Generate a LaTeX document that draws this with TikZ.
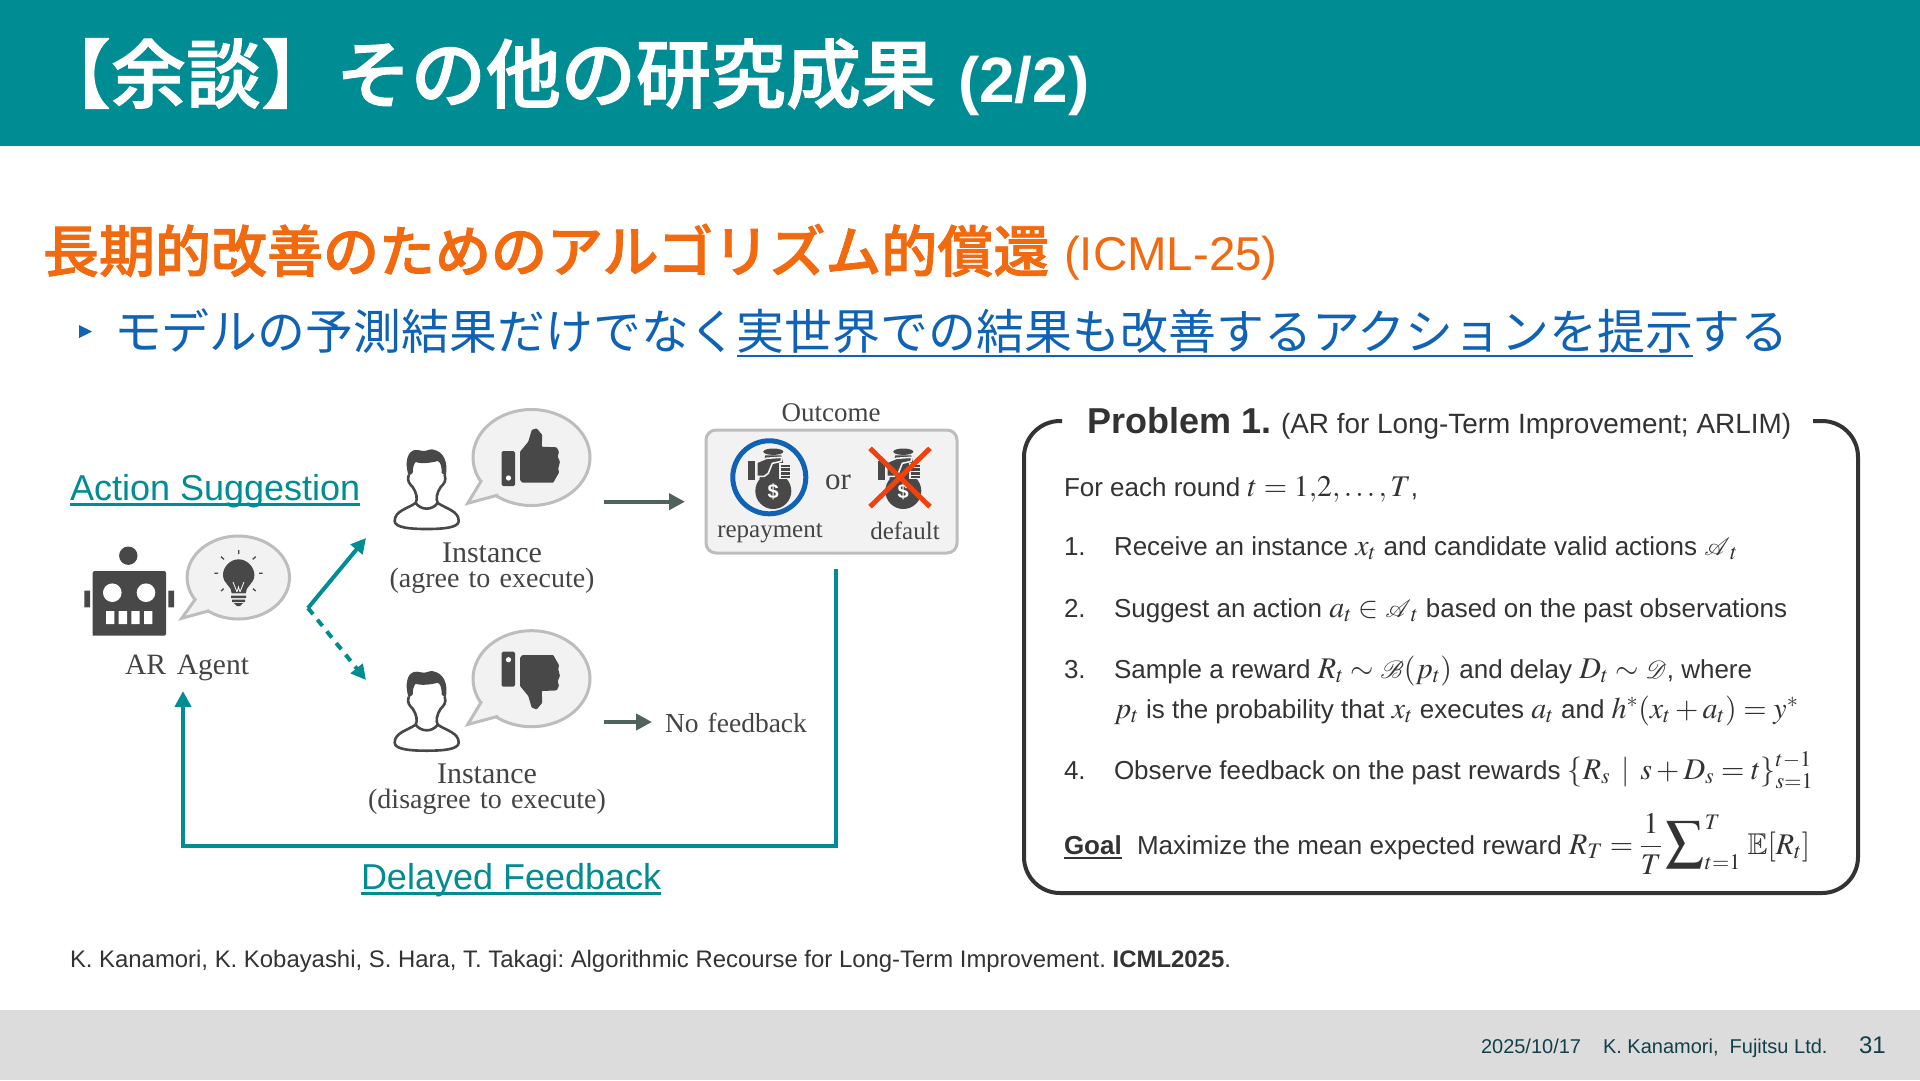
\documentclass[tikz,border=0pt]{standalone}
\usepackage{amsmath,amssymb,mathrsfs,mathptmx}
\usepackage[no-math]{fontspec}
\usetikzlibrary{arrows.meta}
\setmainfont{Liberation Sans}
\newfontfamily\cjk{Noto Sans CJK JP}
\newfontfamily\cjkm[FakeBold=1.5]{Noto Sans CJK JP Medium}
\newfontfamily\tms{Liberation Serif}
\definecolor{teal1}{HTML}{008C93}
\definecolor{orange1}{HTML}{F26A0F}
\definecolor{blue1}{HTML}{0F62B4}
\definecolor{ink}{HTML}{484848}
\definecolor{txt}{HTML}{333333}
\definecolor{serifc}{HTML}{444444}
\definecolor{bubf}{HTML}{F2F2F2}
\definecolor{bubs}{HTML}{BDBDBD}
\definecolor{greyarrow}{HTML}{4F625E}
\definecolor{foot}{HTML}{DCDCDC}
\definecolor{footc}{HTML}{12404A}
\definecolor{xred}{HTML}{F0420F}
\newcommand\fs[1]{\fontsize{#1}{#1}\selectfont}
\newcommand\mth[1]{\smash{\fs{30}$#1$}}
\newcommand\SCR[1]{\mbox{\fs{37}$\mathscr{#1}$}}
\newcommand\bubble[8]{%
  \draw[fill=bubf,draw=bubs,line width=3pt] (#1,#2) ellipse [x radius=#3pt,y radius=#4pt];
  \fill[bubf] (#5) -- (#6) -- (#7) -- cycle;
  \draw[draw=bubs,line width=3pt,line join=miter] (#5) -- (#6) -- (#7);}
\newcommand\personicon[2]{%
  \begin{scope}[shift={(#1,#2)}]
    \fill[ink] (-14,24) -- (-18,27) .. controls (-21,18) and (-21,8) .. (-16,3)
      .. controls (-12,-1) and (-6,2) .. (-3,2) .. controls (1,2) and (4,-1) .. (8,1)
      .. controls (16,3) and (22,12) .. (19,27) -- (15,24) .. controls (15,18) and (14,13) .. (11,12)
      .. controls (4,14) and (-6,15) .. (-11,13) .. controls (-13,15) and (-14,19) .. (-14,24) -- cycle;
    \draw[ink,line width=2.6pt,line join=round]
      (-18,26) .. controls (-20,32) and (-17,35) .. (-14,38)
      .. controls (-10,44) and (-9,50) .. (-11,54)
      .. controls (-6,61) and (5,62) .. (11,54)
      .. controls (9,50) and (10,44) .. (14,38)
      .. controls (17,35) and (20,32) .. (18,26);
    \draw[ink,line width=2.6pt,line join=round]
      (-11,54) .. controls (-20,60) and (-32,62) .. (-32,72)
      .. controls (-32,79) and (-15,80) .. (0,80)
      .. controls (15,80) and (32,79) .. (32,72)
      .. controls (32,62) and (20,60) .. (11,54);
  \end{scope}}
\newcommand\thumbicon{%
  \fill[ink,rounded corners=0.8pt] (-11,-5.3) -- (-2.7,-15.3) -- (0.7,-27) -- (5.7,-28.7) -- (11.3,-22) -- (10.7,-10.3)
    -- (25.7,-9.7) -- (28,-5.3) -- (26.7,-.3) -- (29,4.7) -- (27.3,11.3) -- (28,15.7) -- (24.7,21.3) -- (22.3,25.7)
    -- (-8.7,25.7) -- (-11,23) -- cycle;
  \fill[ink,rounded corners=1.5pt] (-29.3,-6) rectangle (-16,29);
  \fill[white] (-22.5,21) circle [radius=2.6pt];}
\newcommand\bagicon[2]{%
  \begin{scope}[shift={(#1,#2)}]
    \fill[ink] (4,13.7) circle [radius=18pt];
    \fill[ink] (-4,-22) -- (12,-22) -- (18,2) -- (-10,2) -- cycle;
    \fill[ink] (4,-25.6) ellipse [x radius=10pt,y radius=3.2pt];
    \fill[ink] (-21.7,-16.3) rectangle (-14.3,2.7);
    \fill[ink,draw=bubf,line width=1.6pt,line join=round] (-12.5,-15) -- (-3,-19) -- (12,-20) -- (12,-16) -- (3,-14)
      -- (-1,-4) -- (-5,-1) -- (-12.5,-1) -- cycle;
    \fill[ink,draw=bubf,line width=1.2pt] (10.7,-13.3) rectangle (21.5,1);
    \draw[bubf,line width=.8pt] (10.7,-9.5) -- (21.5,-9.5) (10.7,-5.5) -- (21.5,-5.5) (10.7,-1.5) -- (21.5,-1.5);
    \node[anchor=center,inner sep=0pt,text=white,font=\fs{20}\bfseries] (#1bagd) at (4,14.5) {\$};
  \end{scope}}
\tikzset{
  tl/.style={anchor=base west,inner sep=0pt,outer sep=0pt},
  tc/.style={anchor=base,inner sep=0pt,outer sep=0pt,align=center},
  ser/.style={text=serifc,font=\tms\fs{#1}},
  body/.style={tl,text=txt,font=\fs{26}},
  tealline/.style={teal1,line width=4pt},
  greyline/.style={greyarrow,line width=4pt,-{Triangle[length=16pt,width=16pt]}},
  tealarrow/.style={teal1,line width=4pt,-{Triangle[length=15pt,width=15pt]}},
}
\frenchspacing
\begin{document}
\begin{tikzpicture}[x=1pt,y=-1pt]
\useasboundingbox (0,0) rectangle (1920,1080);
\fill[white] (0,0) rectangle (1920,1080);
% header and footer bands
\fill[teal1] (0,0) rectangle (1920,146);
\fill[foot] (0,1010) rectangle (1920,1080);
\node[tl,text=white,font=\cjkm\fs{75}] (title) at (36,102) {【余談】その他の研究成果};
\node[tl,text=white,font=\bfseries\fs{64}] (titlen) at (958,102) {(2/2)};
% headings
\node[tl,text=orange1,font=\cjkm\fs{56}] (head) at (43,272) {長期的改善のためのアルゴリズム的償還};
\node[tl,text=orange1,font=\fs{47.5}] (headn) at (1064,270) {(ICML-25)};
\fill[blue1] (79,325) -- (92,331.5) -- (79,338) -- cycle;
\node[tl,text=blue1,font=\cjk\fs{47.92}] (sub1) at (114,349) {モデルの予測結果だけでなく};
\node[tl,text=blue1,font=\cjk\fs{47.92}] (sub2) at (sub1.base east) {実世界での結果も改善するアクションを提示};
\node[tl,text=blue1,font=\cjk\fs{47.92}] (sub3) at (sub2.base east) {する};
\draw[blue1,line width=2.5pt] ([yshift=-7pt]sub2.base west) -- ([yshift=-7pt]sub2.base east);
% left labels
\node[tl,text=teal1,font=\fs{36}] (act) at (70,500) {Action Suggestion};
\draw[teal1,line width=2.5pt] ([yshift=-4.5pt]act.base west) -- ([yshift=-4.5pt]act.base east);
\node[tl,text=teal1,font=\fs{36}] (del) at (361,889) {Delayed Feedback};
\draw[teal1,line width=2.5pt] ([yshift=-4.5pt]del.base west) -- ([yshift=-4.5pt]del.base east);
% robot
\fill[ink] (128.3,555.7) circle [radius=9.2pt];
\fill[ink,rounded corners=2pt] (92.7,635.7) -- (92.7,571) -- (166,571) -- (166,635.7) [sharp corners] -- cycle;
\fill[ink] (84.3,590.7) rectangle (90,607.3) (168.3,590.7) rectangle (174,607.3);
\fill[white] (112.3,592.7) circle [radius=9.3pt] (146,592.7) circle [radius=9.3pt];
\fill[white] (106,611) rectangle (114.3,624) (118.7,611) rectangle (127,624) (131.3,611) rectangle (139.7,624) (144,611) rectangle (152.3,624);
% bulb bubble
\bubble{238.3}{577.5}{51.2}{41.5}{196,598.3}{181.7,618.3}{209.3,610.7}{}
\fill[ink] (231.7,593.3) .. controls (232,586) and (223,584) .. (223,575) .. controls (223,567) and (230,559.3) .. (238.7,559.3)
  .. controls (247,559.3) and (254.4,567) .. (254.4,575) .. controls (254.4,584) and (245.5,586) .. (245.7,593.3) -- cycle;
\draw[white,line width=.8pt] (233,582) -- (237,592) (244,582) -- (240,592) (237,592) -- (238.5,587) -- (240,592);
\fill[ink] (231,595.5) rectangle (246,598) (232,599.5) rectangle (245,602) (234,603) -- (243,603) -- (240,606) -- (237,606) -- cycle;
\draw[ink,line width=1.3pt] (238.7,550) -- (238.7,554) (214.3,573.3) -- (218,573.3) (259,573.3) -- (262.7,573.3)
  (221,556.7) -- (224,559.3) (255.7,556.7) -- (252.7,559.3) (221,591) -- (223.7,588.7) (255.7,591) -- (253,588.7);
\node[tc,ser=29.5] (agent) at (187,674) {AR\hspace{.12em} Agent};
% upper instance
\personicon{426.7}{449}
\bubble{531.5}{457.5}{58.5}{48}{481.7,480}{467.7,503.3}{498.3,495}{}
\begin{scope}[shift={(531,457)}]\thumbicon\end{scope}
\node[tc,ser=30] (inst1) at (492,562) {Instance};
\node[tc,ser=28] (inst1b) at (492,587) {(agree\hspace{.08em} to\hspace{.08em} execute)};
% lower instance
\personicon{426.7}{670.7}
\bubble{531.5}{678.7}{58.5}{48}{481.7,701.2}{467.7,724.5}{498.3,716.2}{}
\begin{scope}[shift={(531,680.7)},yscale=-1]\thumbicon\end{scope}
\node[tc,ser=30] (inst2) at (487,783) {Instance};
\node[tc,ser=28] (inst2b) at (487,808) {(disagree\hspace{.08em} to\hspace{.08em} execute)};
% outcome
\node[tc,ser=27] (outt) at (831,421) {Outcome};
\draw[fill=bubf,draw=bubs,line width=3pt,rounded corners=10pt] (706,430) rectangle (957,553);
\node[tc,ser=25] (rep) at (770,537) {repayment};
\node[tc,ser=25] (def) at (905,539) {default};
\node[tc,ser=31] (ortx) at (838,489) {or};
\bagicon{769.3}{477.3}
\draw[blue1,line width=5pt] (769.3,477.3) circle [radius=36.5pt];
\bagicon{899.3}{477.3}
\draw[xred,line width=5pt] (870,448.3) -- (930,506.7) (930,448.3) -- (870,506.7);
\node[tl,ser=27.5] (nofb) at (665,732) {No\hspace{.08em} feedback};
% connectors
\coordinate (branch) at (308,608);
\coordinate (toagree) at (366,538);
\coordinate (todis) at (366,680);
\coordinate (a1s) at (604,501.7);
\coordinate (a1e) at (685,501.7);
\coordinate (a2s) at (604,722);
\coordinate (a2e) at (652,722);
\coordinate (fbs) at (836,569);
\coordinate (fbc1) at (836,846);
\coordinate (fbc2) at (183,846);
\coordinate (fbe) at (183,691);
\draw[tealarrow] (branch) -- (toagree);
\draw[tealarrow,dash pattern=on 8pt off 7pt] (branch) -- (todis);
\draw[greyline] (a1s) -- (a1e);
\draw[greyline] (a2s) -- (a2e);
\draw[tealarrow,-{Triangle[length=16pt,width=16pt]},line join=miter] (fbs) -- (fbc1) -- (fbc2) -- (fbe);
% problem box
\coordinate (pbl) at (1062,421);
\coordinate (pbr) at (1813,421);
\draw[txt,line width=4pt,rounded corners=36pt] (pbl) -- (1024,421) -- (1024,893) -- (1858,893) -- (1858,421) -- (pbr);
\node[tl,text=txt,font=\bfseries\fs{36}] (pt) at (1087,433) {Problem 1.};
\node[tl,text=txt,font=\fs{27.9}] (ps) at (1281,433) {(AR for Long-Term Improvement; ARLIM)};
\node[body] (l0) at (1064,496) {For each round \mth{t=1{,}2{,}\ldots,T},};
\node[body] (n1) at (1064,555) {1.};
\node[body] (l1) at (1114,555) {Receive an instance \mth{x_t} and candidate valid actions \mth{\SCR{A}_t}};
\node[body] (n2) at (1064,617) {2.};
\node[body] (l2) at (1114,617) {Suggest an action \mth{a_t\in\SCR{A}_t} based on the past observations};
\node[body] (n3) at (1064,678) {3.};
\node[body] (l3) at (1114,678) {Sample a reward \mth{R_t\sim\SCR{B}(p_t)} and delay \mth{D_t\sim\SCR{D}}, where};
\node[body] (l3b) at (1114,718) {\mth{p_t} is the probability that \mth{x_t} executes \mth{a_t} and \mth{h^{*}(x_t+a_t)=y^{*}}};
\node[body] (n4) at (1064,779) {4.};
\node[body] (l4) at (1114,779) {Observe feedback on the past rewards \mth{\{R_s\mkern2.5mu\mid\mkern2.5mu s+D_s=t\}_{s=1}^{t-1}}};
\node[body,font=\bfseries\fs{26}] (goal) at (1064,854) {Goal};
\draw[txt,line width=2pt] ([yshift=-4pt]goal.base west) -- ([yshift=-4pt]goal.base east);
\node[body] (gt) at (1137,854) {Maximize the mean expected reward \mth{\displaystyle R_T=\frac{1}{T}\mathop{\mbox{\fs{38}$\displaystyle\sum$}}\nolimits_{t=1}^{T}\,\mathbb{E}[R_t]}};
% citation and footer
\node[tl,text=txt,font=\fs{23.9}] (cite) at (70,967) {K. Kanamori, K. Kobayashi, S. Hara, T. Takagi: Algorithmic Recourse for Long-Term Improvement. \textbf{ICML2025}.};
\node[tl,text=footc,font=\fs{20}] (fd) at (1481,1053) {2025/10/17};
\node[tl,text=footc,font=\fs{20}] (fa) at (1603,1053) {K. Kanamori,\ \ Fujitsu Ltd.};
\node[tl,text=footc,font=\fs{24}] (fp) at (1859,1053) {31};
\end{tikzpicture}
\end{document}
